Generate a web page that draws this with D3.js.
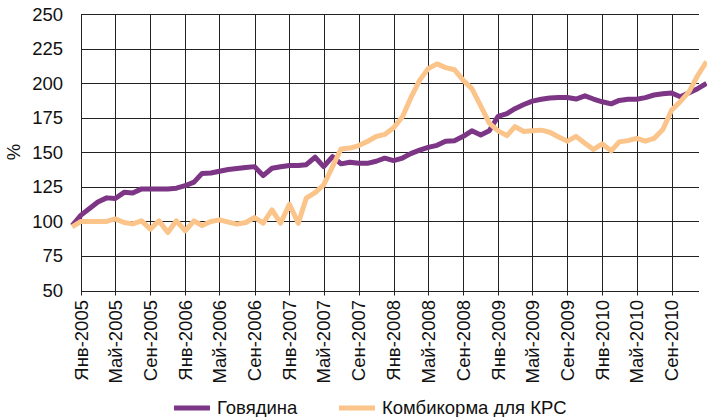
<!DOCTYPE html>
<html>
<head>
<meta charset="utf-8">
<script src="https://cdn.jsdelivr.net/npm/d3@7"></script>
<style>
  body { margin: 0; background: #fff; }
  svg { display: block; font-family: 'Liberation Sans', Arial, sans-serif; }
</style>
</head>
<body>
<div id="chart"></div>
<script>
const chartWidth = 707
const chartHeight = 417
const beefColor = '#7d3585'
const feedColor = '#fbc48a'

// первая точка — декабрь 2004
const firstMonth = new Date(2004, 11, 1)

const beef = [
  97, 104.5, 109.5, 114, 117, 116.5, 121, 120.5, 123.5, 123.5, 123.5, 123.5, 124,
  125.8, 128.4, 134.7, 135, 136.3, 137.5, 138.2, 139, 139.6, 133.1, 138.4, 139.5,
  140.4, 140.4, 141, 146.4, 139.6, 146.9, 141.6, 142.8, 142, 142, 143.5, 145.7,
  144, 145.8, 149, 151.5, 153.5, 155, 158, 158.4, 161.5, 165.5, 162.5, 165.5,
  176, 178, 181.5, 184.5, 187, 188.3, 189.3, 189.6, 189.6, 188.5, 190.8, 188.5,
  186.5, 185, 187.5, 188.3, 188.4, 189.5, 191.4, 192.3, 192.9, 190.2, 193, 196, 199.8
]

const feed = [
  96, 100, 100, 100, 100, 101.8, 99.2, 98.2, 100.4, 94.4, 100.4, 91.9, 100.4,
  93.2, 100.4, 97, 99.9, 101.1, 99.5, 98, 99.2, 102.8, 98.7, 108.3, 98.7, 112.4,
  98.7, 116.8, 120.8, 126.4, 139.6, 152.4, 153, 154.8, 157.8, 161.4, 162.9, 167.7,
  175.7, 189.3, 202, 210.5, 213.9, 211.2, 209.7, 202, 196, 183.5, 171, 165.5,
  162, 168.5, 165, 165.5, 166, 164.5, 161, 158, 161.5, 156.5, 152, 156, 151,
  157.5, 158.4, 160, 158, 160, 166.5, 180.5, 186.6, 193.8, 205.5, 215.5
]

const tickLabels = [
  'Янв-2005', 'Май-2005', 'Сен-2005', 'Янв-2006', 'Май-2006', 'Сен-2006',
  'Янв-2007', 'Май-2007', 'Сен-2007', 'Янв-2008', 'Май-2008', 'Сен-2008',
  'Янв-2009', 'Май-2009', 'Сен-2009', 'Янв-2010', 'Май-2010', 'Сен-2010'
]
const yTicks = [50, 75, 100, 125, 150, 175, 200, 225, 250]
const seriesNames = ['Говядина', 'Комбикорма для КРС']

const plotLeft = 81
const plotRight = 699
const plotTop = 14
const plotBottom = 290.5

const x = d3.scaleTime()
  .domain([new Date(2005, 0, 1), new Date(2010, 8, 1)])
  .range([plotLeft, 671.7])

const y = d3.scaleLinear()
  .domain([50, 250])
  .range([plotBottom, plotTop])

const months = beef.map((d, i) => d3.timeMonth.offset(firstMonth, i))
const tickDates = tickLabels.map((d, i) => d3.timeMonth.offset(new Date(2005, 0, 1), i * 4))

const svg = d3.select('#chart')
  .append('svg')
  .attr('width', chartWidth)
  .attr('height', chartHeight)

// горизонтальная сетка
svg.append('g')
  .selectAll('line')
  .data(yTicks)
  .join('line')
  .attr('x1', plotLeft)
  .attr('x2', plotRight)
  .attr('y1', d => Math.round(y(d)) + 0.5)
  .attr('y2', d => Math.round(y(d)) + 0.5)
  .attr('stroke', '#222')
  .attr('stroke-width', 1)

// вертикальная сетка + засечки
svg.append('g')
  .selectAll('line')
  .data(tickDates)
  .join('line')
  .attr('x1', d => Math.round(x(d)) + 0.5)
  .attr('x2', d => Math.round(x(d)) + 0.5)
  .attr('y1', plotTop)
  .attr('y2', plotBottom + 5)
  .attr('stroke', '#222')
  .attr('stroke-width', 1)

// подписи оси Y
svg.append('g')
  .selectAll('text')
  .data(yTicks)
  .join('text')
  .attr('x', 63)
  .attr('y', d => y(d) + 6.5)
  .attr('text-anchor', 'end')
  .attr('font-size', 18.5)
  .attr('fill', '#111')
  .text(d => d)

svg.append('text')
  .attr('transform', 'translate(20,152) rotate(-90)')
  .attr('text-anchor', 'middle')
  .attr('font-size', 18.5)
  .attr('fill', '#111')
  .text('%')

// подписи оси X
svg.append('g')
  .selectAll('text')
  .data(tickDates)
  .join('text')
  .attr('transform', d => `translate(${x(d) + 6.5},300) rotate(-90)`)
  .attr('text-anchor', 'end')
  .attr('font-size', 18.5)
  .attr('fill', '#111')
  .text((d, i) => tickLabels[i])

// линии
const line = d3.line()
  .x((d, i) => x(months[i]))
  .y(d => y(d))

svg.append('path')
  .datum(beef)
  .attr('d', line)
  .attr('fill', 'none')
  .attr('stroke', beefColor)
  .attr('stroke-width', 5)
  .attr('stroke-linejoin', 'round')

svg.append('path')
  .datum(feed)
  .attr('d', line)
  .attr('fill', 'none')
  .attr('stroke', feedColor)
  .attr('stroke-width', 5)
  .attr('stroke-linejoin', 'round')

// легенда
const legend = svg.append('g')
const legendItems = [
  { name: seriesNames[0], color: beefColor, x: 174 },
  { name: seriesNames[1], color: feedColor, x: 339 }
]
legendItems.forEach(item => {
  legend.append('line')
    .attr('x1', item.x)
    .attr('x2', item.x + 36)
    .attr('y1', 408)
    .attr('y2', 408)
    .attr('stroke', item.color)
    .attr('stroke-width', 5)
  legend.append('text')
    .attr('x', item.x + 43)
    .attr('y', 414)
    .attr('font-size', 18.5)
    .attr('fill', '#111')
    .text(item.name)
})
</script>
</body>
</html>
